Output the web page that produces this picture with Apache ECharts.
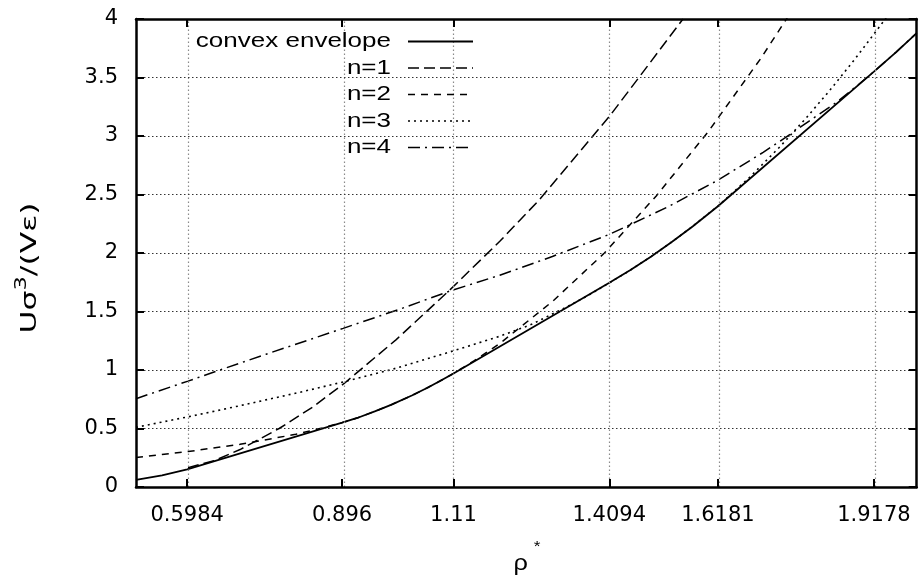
<!DOCTYPE html>
<html>
<head>
<meta charset="utf-8">
<script src="https://cdn.jsdelivr.net/npm/echarts@6/dist/echarts.min.js"></script>
<style>
  html, body { margin: 0; padding: 0; background: #fff; }
  #chart { width: 924px; height: 577px; }
</style>
</head>
<body>
<div id="chart"></div>
<script>
// Series names, drawn in the key
const seriesNames = ['convex envelope', 'n=1', 'n=2', 'n=3', 'n=4'];

// Axis ticks
const xTicks = [0.5984, 0.896, 1.11, 1.4094, 1.6181, 1.9178];
const xTickLabels = ['0.5984', '0.896', '1.11', '1.4094', '1.6181', '1.9178'];
const yGridValues = [0.5, 1, 1.5, 2, 2.5, 3, 3.5];

// Convex envelope of the energy density
const envelopeX = [0.5, 0.525, 0.55, 0.5984, 0.896, 0.925, 0.96, 0.99, 1.03, 1.06, 1.085, 1.11, 1.4094, 1.45, 1.49, 1.53, 1.57, 1.6181, 1.9178, 1.96, 2.0];
const envelopeY = [0.06, 0.08, 0.10, 0.15, 0.55, 0.59, 0.648, 0.702, 0.782, 0.848, 0.908, 0.97, 1.745, 1.854, 1.971, 2.096, 2.229, 2.40, 3.55, 3.715, 3.88];

// n = 1
const n1X = [0.6, 0.65, 0.7, 0.775, 0.84, 0.9, 1.0, 1.103, 1.199, 1.276, 1.41, 1.4645, 1.551];
const n1Y = [0.165, 0.225, 0.32, 0.50, 0.685, 0.885, 1.26, 1.684, 2.10, 2.46, 3.17, 3.49, 4.0];

// n = 2
const n2X = [0.5, 0.6, 0.7, 0.807, 0.858, 0.896, 0.925, 0.96, 0.99, 1.03, 1.06, 1.085, 1.11, 1.15, 1.2, 1.3, 1.4, 1.5, 1.6, 1.7, 1.76];
const n2Y = [0.252, 0.303, 0.365, 0.45, 0.505, 0.55, 0.59, 0.648, 0.702, 0.782, 0.848, 0.908, 0.97, 1.08, 1.23, 1.585, 2.0, 2.49, 3.04, 3.66, 4.07];

// n = 3
const n3X = [0.5, 0.6, 0.7, 0.82, 0.9, 0.988, 1.1, 1.2, 1.26, 1.33, 1.37, 1.4094, 1.45, 1.49, 1.53, 1.57, 1.6181, 1.679, 1.737, 1.788, 1.833, 1.88, 1.938, 1.96];
const n3Y = [0.51, 0.60, 0.695, 0.815, 0.90, 1.0, 1.15, 1.29, 1.39, 1.545, 1.64, 1.745, 1.854, 1.971, 2.096, 2.229, 2.40, 2.647, 2.907, 3.156, 3.39, 3.65, 3.99, 4.13];

// n = 4
const n4X = [0.5, 0.6, 0.661, 0.75, 0.898, 1.01, 1.103, 1.199, 1.3, 1.41, 1.52, 1.615, 1.705, 1.749, 1.794, 1.845, 1.88, 1.9178, 1.96, 2.0];
const n4Y = [0.755, 0.905, 1.0, 1.135, 1.356, 1.525, 1.675, 1.81, 1.97, 2.16, 2.39, 2.615, 2.86, 2.99, 3.13, 3.285, 3.41, 3.55, 3.715, 3.88];

const FONT = '"Liberation Sans", Arial, Helvetica, sans-serif';
const TICK_FONT = '"DejaVu Sans", sans-serif';
const pairs = (xs, ys) => xs.map((x, i) => [x, ys[i]]);

const curveData = [
  pairs(envelopeX, envelopeY),
  pairs(n1X, n1Y),
  pairs(n2X, n2Y),
  pairs(n3X, n3Y),
  pairs(n4X, n4Y)
];
const dashStyles = ['solid', [11, 5], [7, 6], [2, 4], [12, 5, 2, 5]];
const lineWidths = [1.8, 1.5, 1.5, 1.6, 1.5];

const chart = echarts.init(document.getElementById('chart'), null, { renderer: 'canvas' });

const gridLeft = 136, gridTop = 19, gridRight = 7.3, gridBottom = 90;

const tickStyle = { color: '#000', width: 2 };
const baseX = {
  type: 'value', min: 0.5, max: 2.0, z: 10,
  axisLine: { show: true, onZero: false, lineStyle: { color: '#000', width: 2.5 } },
  axisTick: { show: true, inside: true, length: 8, customValues: xTicks, lineStyle: tickStyle },
  splitLine: { show: false }
};
const baseY = {
  type: 'value', min: 0, max: 4, interval: 0.5, z: 10,
  axisLine: { show: true, onZero: false, lineStyle: { color: '#000', width: 2.5 } },
  axisTick: { show: true, inside: true, length: 8, lineStyle: tickStyle },
  splitLine: { show: false }
};

const series = curveData.map((d, i) => ({
  name: seriesNames[i],
  type: 'line',
  data: d,
  z: 3,
  symbol: 'none',
  showSymbol: false,
  smooth: false,
  silent: true,
  lineStyle: { color: '#000', width: lineWidths[i], type: dashStyles[i] }
}));

// dotted grid lines drawn at the tick positions
series.unshift({
  type: 'line',
  data: [],
  z: 1,
  silent: true,
  markLine: {
    silent: true,
    symbol: ['none', 'none'],
    label: { show: false },
    animation: false,
    data: [
      ...xTicks.map(v => ({ xAxis: v, lineStyle: { color: '#8a8a8a', width: 1.2, type: [1.5, 2.5] } })),
      ...yGridValues.map(v => ({ yAxis: v, lineStyle: { color: '#333', width: 1, type: [1.5, 2.5] } }))
    ]
  }
});

// key: right-aligned names with a line sample to the right
const keyTextRight = 391, keyLineX1 = 408, keyLineX2 = 473, keyRow0 = 41.5, keyStep = 26.5;
const keyElements = [{
  type: 'rect', z: 2, silent: true,
  shape: { x: 149, y: 22, width: 341, height: 141 },
  style: { fill: '#fff' }
}];
seriesNames.forEach((name, i) => {
  const y = keyRow0 + i * keyStep;
  keyElements.push({
    type: 'text', z: 20, x: keyTextRight, y: y, scaleX: 1.3, silent: true,
    style: { text: name, fontSize: 20, fontFamily: FONT, fill: '#000', align: 'right', verticalAlign: 'middle' }
  });
  keyElements.push({
    type: 'line', z: 20, silent: true,
    shape: { x1: keyLineX1, y1: y, x2: keyLineX2, y2: y },
    style: { stroke: '#000', lineWidth: lineWidths[i], lineDash: dashStyles[i] === 'solid' ? null : dashStyles[i] }
  });
});

// axis titles
keyElements.push({
  type: 'text', z: 20, x: 28, y: 268, rotation: Math.PI / 2, scaleX: 1.5, silent: true,
  style: {
    text: '{a|Uσ}{s|3}{a|/(Vε)}',
    align: 'center', verticalAlign: 'middle', fill: '#000',
    rich: {
      a: { fontSize: 21, fontFamily: TICK_FONT, lineHeight: 26, verticalAlign: 'bottom', fill: '#000' },
      s: { fontSize: 15, fontFamily: TICK_FONT, lineHeight: 14, verticalAlign: 'top', fill: '#000' }
    }
  }
});
keyElements.push({
  type: 'text', z: 20, x: 527, y: 557, scaleX: 1.15, silent: true,
  style: {
    text: '{a|ρ}{s|*}',
    align: 'center', verticalAlign: 'middle', fill: '#000',
    rich: {
      a: { fontSize: 22, fontFamily: FONT, lineHeight: 36, verticalAlign: 'bottom', fill: '#000' },
      s: { fontSize: 15, fontFamily: FONT, lineHeight: 14, verticalAlign: 'top', padding: [0, 0, 0, 5], fill: '#000' }
    }
  }
});

chart.setOption({
  animation: false,
  backgroundColor: '#fff',
  grid: { left: gridLeft, top: gridTop, right: gridRight, bottom: gridBottom, containLabel: false },
  xAxis: [
    Object.assign({}, baseX, {
      position: 'bottom',
      axisLabel: {
        show: true, customValues: xTicks, margin: 18, color: '#000', fontSize: 21, fontFamily: TICK_FONT,
        formatter: v => {
          const i = xTicks.findIndex(t => Math.abs(t - v) < 1e-6);
          return i >= 0 ? xTickLabels[i] : '';
        }
      }
    }),
    Object.assign({}, baseX, { position: 'top', axisLabel: { show: false } })
  ],
  yAxis: [
    Object.assign({}, baseY, {
      position: 'left',
      axisLabel: { show: true, margin: 18, color: '#000', fontSize: 21, fontFamily: TICK_FONT }
    }),
    Object.assign({}, baseY, { position: 'right', axisLabel: { show: false } })
  ],
  graphic: { elements: keyElements },
  series: series
});
</script>
</body>
</html>
